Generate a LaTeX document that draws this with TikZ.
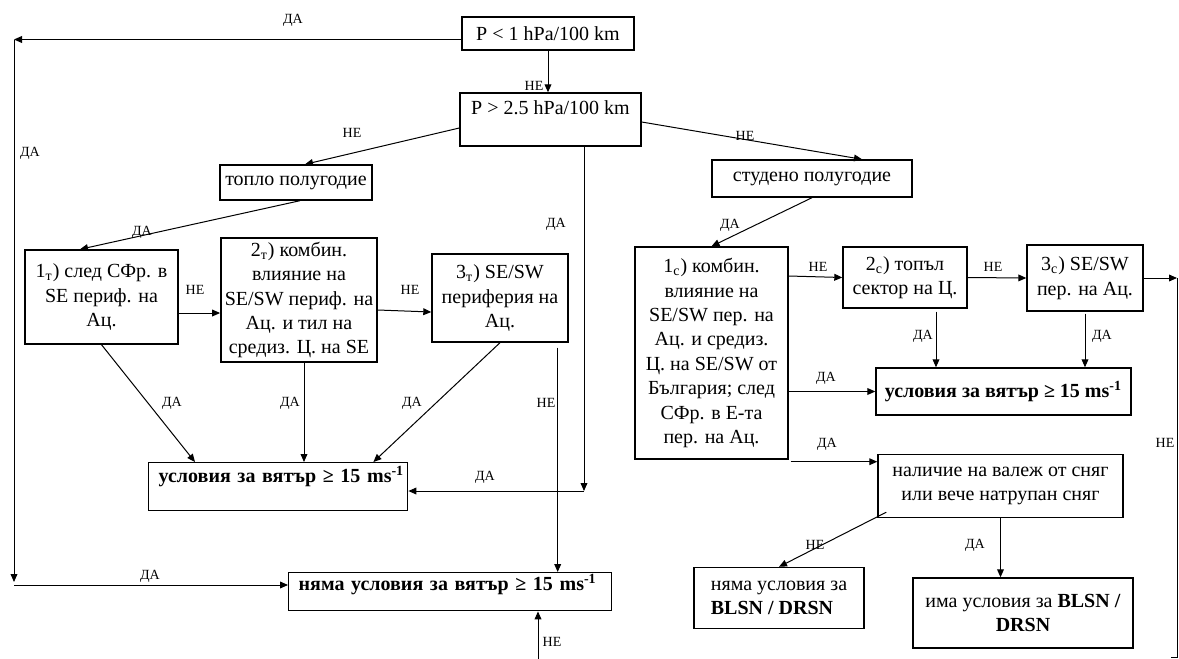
\documentclass[tikz,border=0pt]{standalone}
\usepackage{fontspec}
\setmainfont{Liberation Serif}
\usetikzlibrary{arrows.meta,calc}

\tikzset{
  box/.style={draw, line width=0.7pt, align=center, inner sep=2pt,
    font=\fontsize{10}{12.2}\selectfont},
  boldbox/.style={box, font=\fontsize{10}{12.2}\selectfont\bfseries},
  lbl/.style={font=\fontsize{7}{8}\selectfont, inner sep=0pt},
  arr/.style={-{Triangle[length=4pt,width=3.4pt]}, line width=0.5pt},
  ln/.style={line width=0.5pt},
}

\begin{document}
\begin{tikzpicture}[x=0.5pt,y=-0.5pt]
  \useasboundingbox (0,0) rectangle (1179,659);

  % pressure tests
  \node[box, minimum width=86pt, minimum height=16.5pt] (plow) at (548,33.5) {P < 1 hPa/100 km};
  \node[box, minimum width=90.5pt, text height=8.5pt, text depth=14pt] (phigh) at (550.5,119.5) {P > 2.5 hPa/100 km};

  % half-years
  \node[box, minimum width=76pt, minimum height=17.5pt] (warm) at (296,182.5) {топло полугодие};
  \node[box, minimum width=100pt, minimum height=18.5pt] (cold) at (812,178.5) {студено полугодие};

  % warm half-year cases
  \node[box, minimum width=76.5pt, minimum height=47pt] (wa) at (101.5,297) {1\textsubscript{т}) след СФр. в\\SE периф. на\\Ац.};
  \node[box, minimum width=78pt, minimum height=62pt] (wb) at (299,300) {2\textsubscript{т}) комбин.\\влияние на\\SE/SW периф. на\\Ац. и тил на\\средиз. Ц. на SE};
  \node[box, minimum width=68pt, minimum height=44pt] (wc) at (500,298) {3\textsubscript{т}) SE/SW\\периферия на\\Ац.};
  \node[boldbox, anchor=north west, inner xsep=5pt, text width=119.5pt, align=left, text height=8pt, text depth=12pt] (windW) at (148,462) {\mbox{условия за вятър ≥ 15 ms\textsuperscript{-1}}};
  \node[boldbox, anchor=north west, inner xsep=5pt, text width=151.5pt, align=left, text height=7pt, text depth=8pt] (noWind) at (288,572) {\mbox{няма условия за вятър ≥ 15 ms\textsuperscript{-1}}};

  % cold half-year cases
  \node[box, minimum width=76.5pt, minimum height=106pt] (ca) at (711.5,353) {1\textsubscript{с}) комбин.\\влияние на\\SE/SW пер. на\\Ац. и средиз.\\Ц. на SE/SW от\\България; след\\СФр. в Е-та\\пер. на Ац.};
  \node[box, minimum width=62pt, minimum height=30.5pt] (cb) at (905,277.5) {2\textsubscript{с}) топъл\\сектор на Ц.};
  \node[box, minimum width=58pt, minimum height=33pt] (cc) at (1085,278) {3\textsubscript{с}) SE/SW\\пер. на Ац.};
  \node[boldbox, minimum width=127.5pt, minimum height=23.5pt] (windC) at (1003.5,391.5) {условия за вятър ≥ 15 ms\textsuperscript{-1}};
  \node[box, minimum width=122.5pt, minimum height=31.5pt] (snow) at (1000.5,486) {наличие на валеж от сняг\\или вече натрупан сняг};
  \node[box, minimum width=85pt, minimum height=30.5pt, align=left] (nosnow) at (779,598) {няма условия за\\\textbf{BLSN / DRSN}};
  \node[box, minimum width=110pt, minimum height=35pt] (yessnow) at (1023,613) {има условия за \textbf{BLSN /}\\\textbf{DRSN}};

  % corners of the long lines
  \coordinate (lt) at (14,39.5);
  \coordinate (lb) at (14,585);
  \coordinate (pd) at (584,491);
  \coordinate (bt) at (538,659);
  \coordinate (rt) at (1177,278);
  \coordinate (rb) at (1177,657);

  % left part
  \draw[arr] ([yshift=-3pt]plow.west) -- (lt);
  \draw[arr] (lt) -- ([yshift=1.5pt]lb);
  \draw[arr] (lb) -- (lb -| noWind.west);
  \draw[arr] (plow.south) -- (plow.south |- phigh.north);
  \draw[arr] ([yshift=-4.25pt]phigh.west) -- ([xshift=4.5pt]warm.north);
  \draw[arr] ([yshift=-1.25pt]phigh.east) -- ([xshift=25pt]cold.north);
  \draw[arr] ([xshift=2pt]warm.south) -- ([xshift=-10.75pt]wa.north);
  \draw[arr] ([yshift=-8pt]wa.east) -- ([yshift=-8pt]wa.east -| wb.west);
  \draw[arr] ([yshift=-5pt]wb.east) -- ([yshift=-7pt]wc.west);
  \draw[arr] (wa.south) -- ([xshift=23.5pt]windW.north west);
  \draw[arr] ([xshift=2.5pt]wb.south) -- ([xshift=2.5pt]wb.south |- windW.north);
  \draw[arr] (wc.south) -- ([xshift=-17.5pt]windW.north east);
  \draw[arr] ([xshift=-5.5pt,yshift=-2.5pt]wc.south east) -- ([xshift=-5.5pt]wc.south east |- noWind.north);
  \draw[arr] (phigh.south -| pd) -- (pd);
  \draw[arr] (pd) -- (pd -| windW.east);
  \draw[arr] (bt) -- (bt |- noWind.south);
  \draw[ln] (bt) -- ++(6,0);

  % right part
  \draw[arr] (cold.south) -- (ca.north);
  \draw[arr] ([yshift=38.5pt]ca.east) -- (cb.west);
  \draw[arr] (cb.east) -- (cc.west);
  \draw[arr] (cc.east) -- (rt);
  \draw[ln] (rt) -- (rb) -- ++(-6,0);
  \draw[arr] ([xshift=15.5pt,yshift=-1.5pt]cb.south) -- ([xshift=15.5pt]cb.south |- windC.north);
  \draw[arr] ([yshift=-1pt]cc.south) -- (cc.south |- windC.north);
  \draw[arr] (ca.east |- windC.west) -- (windC.west);
  \draw[arr] ([xshift=1pt,yshift=-1pt]ca.south east) -- ([yshift=-1pt]ca.south east -| snow.west);
  \draw[arr] ([xshift=4.5pt,yshift=3pt]snow.south west) -- (nosnow.north);
  \draw[arr] (snow.south) -- (snow.south |- yessnow.north);

  % yes / no labels
  \node[lbl] (y1) at (293,20) {ДА};
  \node[lbl] (y2) at (30,153) {ДА};
  \node[lbl] (y3) at (150,576) {ДА};
  \node[lbl] (n1) at (534,86) {НЕ};
  \node[lbl] (n2) at (352,133) {НЕ};
  \node[lbl] (n3) at (745,136) {НЕ};
  \node[lbl] (y4) at (142,232) {ДА};
  \node[lbl] (n4) at (195,290) {НЕ};
  \node[lbl] (n5) at (410,290) {НЕ};
  \node[lbl] (y5) at (172,403) {ДА};
  \node[lbl] (y6) at (290,403) {ДА};
  \node[lbl] (y7) at (412,403) {ДА};
  \node[lbl] (n6) at (546,403) {НЕ};
  \node[lbl] (y8) at (556,224) {ДА};
  \node[lbl] (y9) at (485,477) {ДА};
  \node[lbl] (n7) at (552,642) {НЕ};
  \node[lbl] (y10) at (730,225) {ДА};
  \node[lbl] (n8) at (818,267) {НЕ};
  \node[lbl] (n9) at (993,267) {НЕ};
  \node[lbl] (y11) at (923,336) {ДА};
  \node[lbl] (y12) at (1102,336) {ДА};
  \node[lbl] (y13) at (826,378) {ДА};
  \node[lbl] (y14) at (827,444) {ДА};
  \node[lbl] (n10) at (1165,443) {НЕ};
  \node[lbl] (n11) at (815,545) {НЕ};
  \node[lbl] (y15) at (975,545) {ДА};
\end{tikzpicture}
\end{document}
